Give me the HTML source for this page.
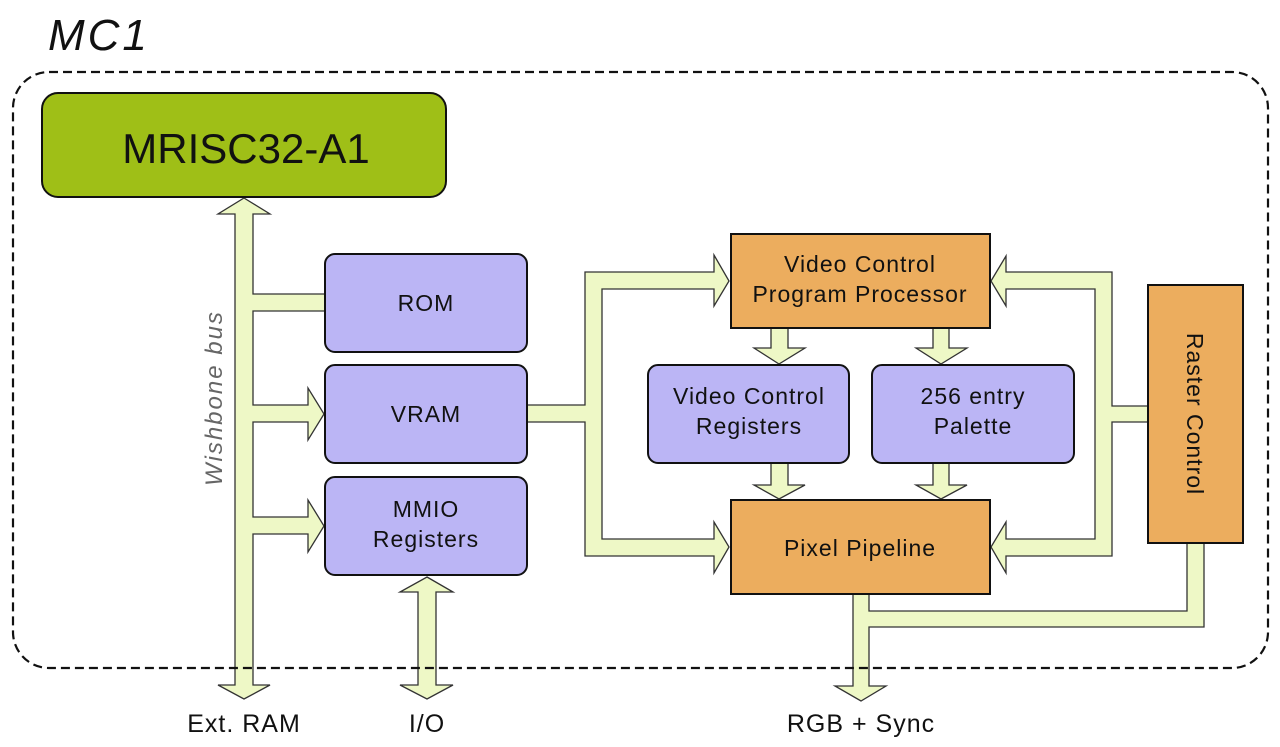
<!DOCTYPE html>
<html><head><meta charset="utf-8"><style>
html,body{margin:0;padding:0;background:#fff;}
svg{display:block;}
text{font-family:"Liberation Sans",sans-serif;fill:#111;}
</style></head><body>
<svg width="1280" height="747" viewBox="0 0 1280 747" xmlns="http://www.w3.org/2000/svg">
<g stroke="#333" stroke-width="1.3" fill="#eef8c6" stroke-linejoin="miter">
<polygon points="244,198 270,214 253,214 253,294 325,294 325,311 253,311 253,405 308,405 308,388 324,414 308,440 308,422 253,422 253,517 308,517 308,500 324,526 308,552 308,534 253,534 253,685 270,685 244,699 218,685 235,685 235,214 218,214"/>
<polygon points="427,577 453,592 436,592 436,685 453,685 427,699 400,685 418,685 418,592 400,592"/>
<polygon points="527,405 585,405 585,272 714,272 714,255 729,281 714,306 714,289 602,289 602,539 714,539 714,522 729,547 714,573 714,556 585,556 585,422 527,422"/>
<polygon points="991,281 1006,256 1006,272 1112,272 1112,406 1148,406 1148,422 1112,422 1112,556 1006,556 1006,573 991,547 1006,522 1006,539 1095,539 1095,289 1006,289 1006,306"/>
<polygon points="853,594 853,686 835,686 861,701 886,686 869,686 869,627 1204,627 1204,543 1187,543 1187,611 869,611 869,594"/>
<polygon points="771,328 788,328 788,348 805,348 779,364 754,348 771,348"/>
<polygon points="933,328 949,328 949,348 967,348 941,364 916,348 933,348"/>
<polygon points="771,463 788,463 788,485 805,485 779,499 754,485 771,485"/>
<polygon points="933,463 949,463 949,485 967,485 941,499 916,485 933,485"/>
</g>
<rect x="13" y="72" width="1255" height="596" rx="36" fill="none" stroke="#111" stroke-width="2.2" stroke-dasharray="9,5"/>
<text x="48" y="50" font-size="44" font-style="italic" letter-spacing="3">MC1</text>
<rect x="42" y="93" width="404" height="104" rx="16" fill="#9fbf17" stroke="#111" stroke-width="2"/>
<text x="246" y="163" font-size="42" text-anchor="middle">MRISC32-A1</text>
<g fill="#bbb5f5" stroke="#111" stroke-width="2">
<rect x="325" y="254" width="202" height="98" rx="10"/>
<rect x="325" y="365" width="202" height="98" rx="10"/>
<rect x="325" y="477" width="202" height="98" rx="10"/>
<rect x="648" y="365" width="201" height="98" rx="10"/>
<rect x="872" y="365" width="202" height="98" rx="10"/>
</g>
<g fill="#ecad5e" stroke="#111" stroke-width="2">
<rect x="731" y="234" width="259" height="94"/>
<rect x="731" y="500" width="259" height="94"/>
<rect x="1148" y="285" width="95" height="258"/>
</g>
<g font-size="23" text-anchor="middle" letter-spacing="1">
<text x="426" y="311">ROM</text>
<text x="426" y="422">VRAM</text>
<text x="426" y="517">MMIO</text>
<text x="426" y="547">Registers</text>
<text x="860" y="272">Video Control</text>
<text x="860" y="302">Program Processor</text>
<text x="749" y="404">Video Control</text>
<text x="749" y="434">Registers</text>
<text x="973" y="404">256 entry</text>
<text x="973" y="434">Palette</text>
<text x="860" y="556">Pixel Pipeline</text>
<text transform="translate(1187,414) rotate(90)">Raster Control</text>
</g>
<text transform="translate(222,398) rotate(-90)" font-size="24" font-style="italic" text-anchor="middle" letter-spacing="2" style="fill:#666">Wishbone bus</text>
<g font-size="25" text-anchor="middle" letter-spacing="1">
<text x="244" y="732">Ext. RAM</text>
<text x="427" y="732">I/O</text>
<text x="861" y="732">RGB + Sync</text>
</g>
</svg>
</body></html>
